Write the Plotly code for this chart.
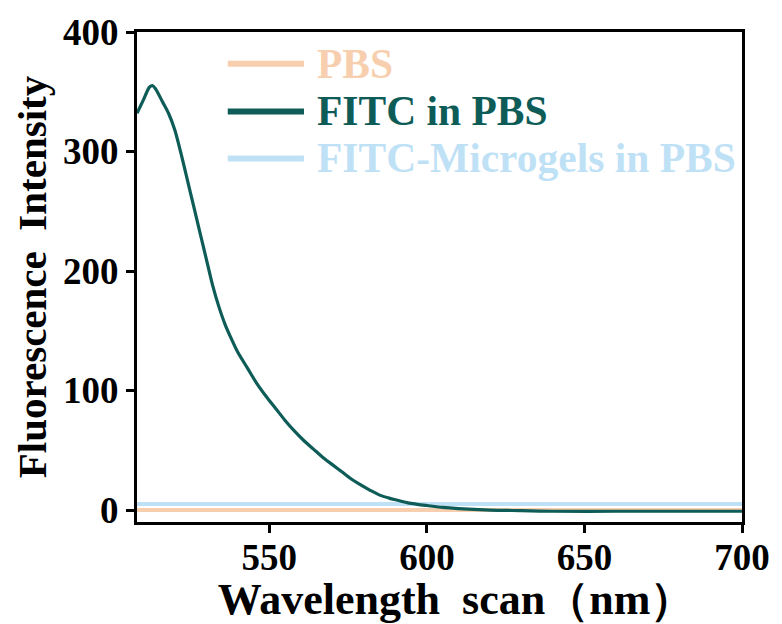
import plotly.graph_objects as go

wavelength = [508, 510, 512, 513, 514, 516, 518, 520, 522, 524, 526, 528, 530, 532, 534, 536, 538, 540,
              543, 546, 549, 552, 555, 558, 561, 564, 567, 570, 573, 576, 579, 582, 585, 588, 591, 594,
              597, 600, 605, 610, 620, 630, 640, 660, 680, 700]
fitc_pbs = [332, 343, 354, 355, 352, 342, 332, 318, 298, 276, 254, 232, 210, 188, 170, 155, 143, 132,
            119, 106, 95, 85, 75, 66, 58, 51, 44, 38, 32, 26, 21, 16.5, 12.5, 10, 8, 6, 4.8, 3.8, 2.2,
            1.2, 0, -0.5, -1, -1, -1, -1]
wl_flat = [508, 700]
pbs = [0, 0]
fitc_microgels = [5, 5]

names = ["PBS", "FITC in PBS", "FITC-Microgels in PBS"]
colors = ["#f8cfae", "#0e5c57", "#bfe1f6"]

font_family = "Liberation Serif, Times New Roman, serif"

fig = go.Figure()
fig.add_trace(go.Scatter(x=wl_flat, y=fitc_microgels, mode="lines", name=names[2],
                         line=dict(color=colors[2], width=4)))
fig.add_trace(go.Scatter(x=wl_flat, y=pbs, mode="lines", name=names[0],
                         line=dict(color=colors[0], width=4)))
fig.add_trace(go.Scatter(x=wavelength, y=fitc_pbs, mode="lines", name=names[1],
                         line=dict(color=colors[1], width=3.2, shape="spline", smoothing=0.8)))

# manual legend (long line samples, coloured text)
leg_y = [0.935, 0.838, 0.742]
for i, (nm, col) in enumerate(zip(names, colors)):
    fig.add_shape(type="line", xref="paper", yref="paper", x0=0.15, x1=0.276,
                  y0=leg_y[i], y1=leg_y[i], line=dict(color=col, width=6))
    fig.add_annotation(xref="paper", yref="paper", x=0.294, y=leg_y[i], text=nm,
                       showarrow=False, xanchor="left", yanchor="middle",
                       font=dict(family=font_family, size=41.5, color=col))

axis_common = dict(showline=True, linecolor="black", linewidth=3, mirror=True,
                   ticks="outside", ticklen=8, tickwidth=3, tickcolor="black",
                   showgrid=False, zeroline=False,
                   tickfont=dict(family=font_family, size=37, color="black"))

fig.update_xaxes(range=[508, 700], tickvals=[550, 600, 650, 700], ticklabelstandoff=-7,
                 title=dict(text="<b>&nbsp;&nbsp;&nbsp;Wavelength  scan（nm）</b>", standoff=0,
                            font=dict(family=font_family, size=44, color="black")),
                 **axis_common)
fig.update_yaxes(range=[-10, 400], tickvals=[0, 100, 200, 300, 400],
                 title=dict(text="<b>Fluorescence  Intensity</b>", standoff=4,
                            font=dict(family=font_family, size=41, color="black")),
                 **axis_common)

fig.update_layout(width=782, height=624, showlegend=False,
                  margin=dict(l=137, r=37, t=32, b=102),
                  paper_bgcolor="white", plot_bgcolor="white",
                  font=dict(family=font_family, color="black"))
fig.update_xaxes(tickfont_weight="bold")
fig.update_yaxes(tickfont_weight="bold")
fig.update_annotations(font_weight="bold")

fig.write_html("out.html")
